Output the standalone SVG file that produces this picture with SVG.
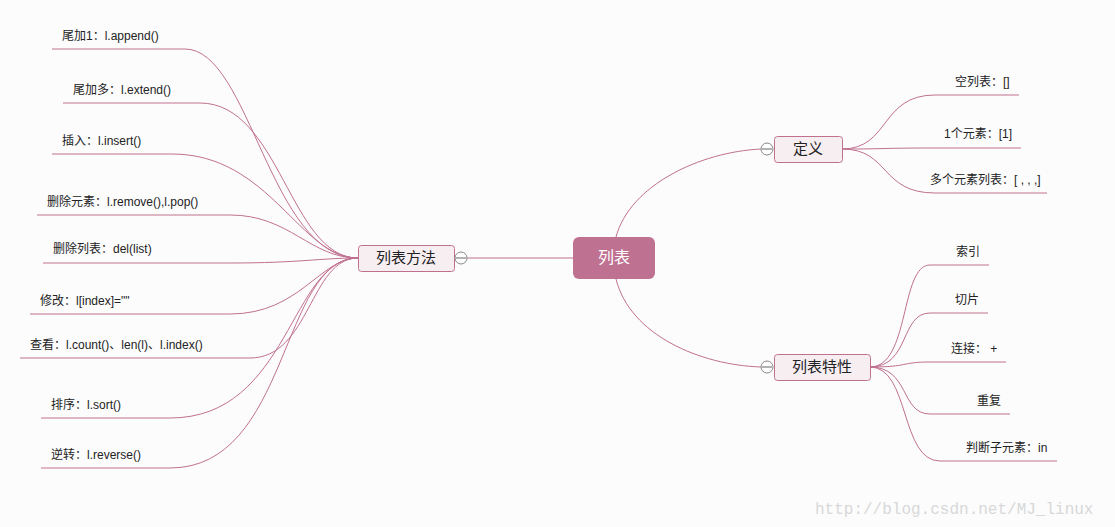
<svg xmlns="http://www.w3.org/2000/svg" width="1115" height="527" viewBox="0 0 1115 527">
<style>
text{font-family:"Liberation Sans","Noto Sans CJK SC",sans-serif;fill:#222;font-size:12px}
.c{fill:none;stroke:#c0708f;stroke-width:1}
.n{fill:#f7eef2;stroke:#c0708f;stroke-width:1}
.t{font-size:15px;text-anchor:middle}
.k{fill:#fff;stroke:#888}
</style>
<rect width="1115" height="527" fill="#fcfcfd"/>
<g id="connectors">
<path class="c" d="M467 258H573"/>
<path class="c" d="M616 237C630 185 700 152 761 149"/>
<path class="c" d="M616 279C630 335 700 365 761 367"/>
<path class="c" d="M52 49H185C250 49 270 258 358 258"/>
<path class="c" d="M63 103H200C280 103 290 258 358 258"/>
<path class="c" d="M52 154H172C270 154 300 258 358 258"/>
<path class="c" d="M37 215H230C290 215 310 258 358 258"/>
<path class="c" d="M43 263H230C300 263 320 258 358 258"/>
<path class="c" d="M30 314H230C300 314 320 258 358 258"/>
<path class="c" d="M20 358H250C310 358 310 258 358 258"/>
<path class="c" d="M41 418H170C290 418 290 258 358 258"/>
<path class="c" d="M41 468H170C290 468 280 258 358 258"/>
<path class="c" d="M842 149C890 149 880 95 935 95H1019"/>
<path class="c" d="M842 149C890 149 880 148 935 148H1021"/>
<path class="c" d="M842 149C890 149 880 193 935 193H1047"/>
<path class="c" d="M870 367C910 367 900 265 930 265H989"/>
<path class="c" d="M870 367C910 367 900 313 930 313H988"/>
<path class="c" d="M870 367C910 367 900 362 930 362H1006"/>
<path class="c" d="M870 367C910 367 900 414 930 414H1010"/>
<path class="c" d="M870 367C910 367 900 461 940 461H1057"/>
</g>
<g id="root"><rect x="573" y="237" width="82" height="42" rx="6" fill="#bf7192"/><text x="614" y="263" class="t" style="fill:#fff;font-size:16px">列表</text></g>
<g id="methods"><rect class="n" x="358.5" y="245.5" width="96" height="26" rx="3"/><text x="406" y="263" class="t">列表方法</text><circle class="k" cx="461" cy="258" r="6"/><path d="M456 258H466" stroke="#666"/></g>
<g id="def"><rect class="n" x="774.5" y="136.5" width="68" height="26" rx="3"/><text x="808" y="154" class="t">定义</text><circle class="k" cx="767" cy="149" r="6"/><path d="M762 149H772" stroke="#666"/></g>
<g id="feat"><rect class="n" x="774.5" y="354.5" width="96" height="26" rx="3"/><text x="822" y="372" class="t">列表特性</text><circle class="k" cx="767" cy="367" r="6"/><path d="M762 367H772" stroke="#666"/></g>
<g id="leaves">
<text x="62" y="40">尾加1：l.append()</text>
<text x="73" y="94">尾加多：l.extend()</text>
<text x="62" y="145">插入：l.insert()</text>
<text x="47" y="206">删除元素：l.remove(),l.pop()</text>
<text x="53" y="253">删除列表：del(list)</text>
<text x="40" y="305">修改：l[index]=""</text>
<text x="30" y="349">查看：l.count()、len(l)、l.index()</text>
<text x="51" y="409">排序：l.sort()</text>
<text x="51" y="459">逆转：l.reverse()</text>
<text x="955" y="86">空列表：[]</text>
<text x="944" y="138">1个元素：[1]</text>
<text x="930" y="184">多个元素列表：[ , , ,]</text>
<text x="956" y="256">索引</text>
<text x="955" y="304">切片</text>
<text x="951" y="353">连接： +</text>
<text x="977" y="405">重复</text>
<text x="966" y="452">判断子元素：in</text>
</g>
<text x="815" y="514" style="font-family:'Liberation Mono',monospace;font-size:16px;fill:#d8d8d8">http://blog.csdn.net/MJ_linux</text>
</svg>
